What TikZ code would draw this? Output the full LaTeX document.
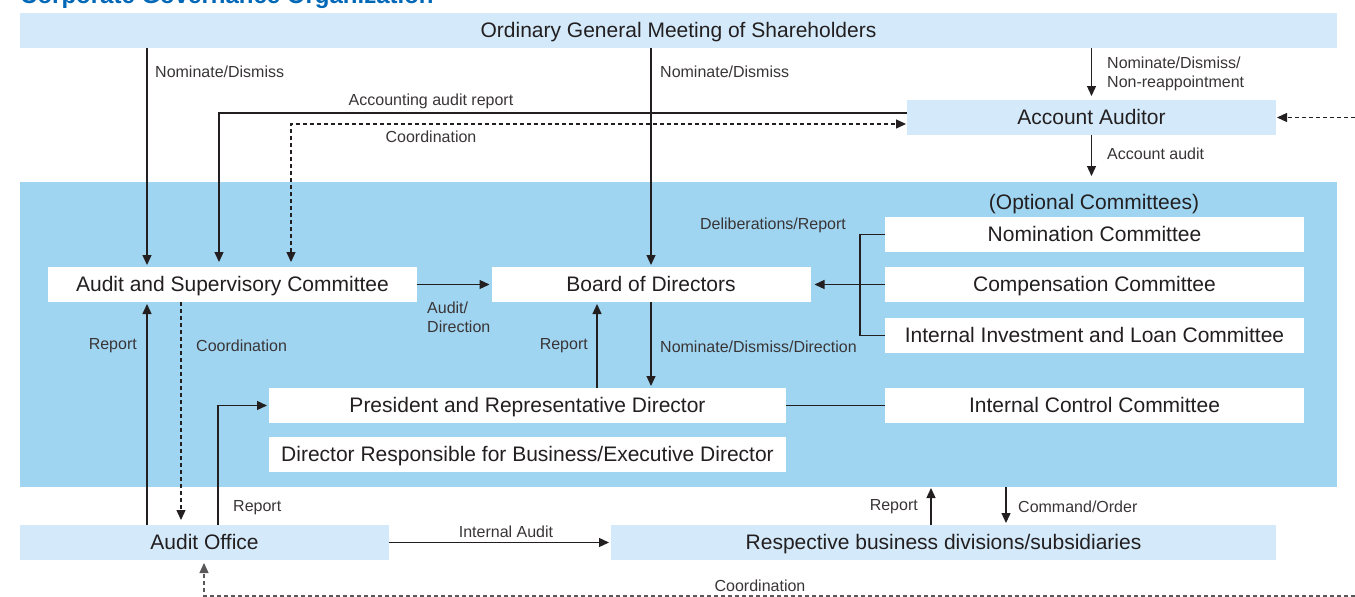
\documentclass[tikz,border=0pt]{standalone}
\usepackage{fontspec}
\setmainfont{Liberation Sans}
\usetikzlibrary{arrows.meta}

\definecolor{paleblue}{RGB}{212,234,250}
\definecolor{boardblue}{RGB}{160,213,242}
\definecolor{titleblue}{RGB}{0,104,183}
\definecolor{ink}{RGB}{35,31,32}

\tikzset{
  x=1pt, y=-1pt,
  unit/.style={inner sep=0pt, outer sep=0pt, font=\fontsize{21}{25}\selectfont, text=ink,
               text height=16pt, text depth=2pt},
  palebox/.style={unit, fill=paleblue},
  whitebox/.style={unit, fill=white},
  wide/.style={minimum width=369pt, minimum height=35pt},
  committee/.style={minimum width=419pt, minimum height=35pt},
  lbl/.style={inner sep=0pt, font=\fontsize{16}{19}\selectfont, text=ink!90, align=left},
  link/.style={draw=ink, line width=1.3pt},
  arr/.style={link, -{Triangle[length=10pt,width=9pt]}, shorten >=2pt},
  darr/.style={arr, dash pattern=on 4pt off 3pt},
}

\begin{document}
\begin{tikzpicture}
\useasboundingbox (0,0) rectangle (1355,597);

% heading, mostly above the top edge
\node[anchor=base west, inner sep=0pt, text=titleblue,
      font=\fontsize{24}{28}\selectfont\bfseries] (title) at (20,3)
  {Corporate Governance Organization};

% management area
\node[unit, fill=boardblue, minimum width=1317pt, minimum height=305pt] (mgmt) at (678.5,334.5) {};

% boxes
\node[palebox, minimum width=1317pt, minimum height=35pt] (ogm) at (678.5,30.5)
  {Ordinary General Meeting of Shareholders};
\node[palebox, wide] (aa) at (1091.5,117.5) {Account Auditor};
\node[whitebox, wide] (asc) at (232.5,284.5) {Audit and Supervisory Committee};
\node[whitebox, minimum width=319pt, minimum height=35pt] (bod) at (651,284.5) {Board of Directors};
\node[unit, anchor=center] (opt) at (1094,202) {(Optional Committees)};
\node[whitebox, committee] (nom) at (1094.5,234.5) {Nomination Committee};
\node[whitebox, committee] (comp) at (1094.5,284.5) {Compensation Committee};
\node[whitebox, committee] (iil) at (1094.5,335.5) {Internal Investment and Loan Committee};
\node[whitebox, minimum width=517pt, minimum height=35pt] (pres) at (527.5,405.5)
  {President and Representative Director};
\node[whitebox, committee] (icc) at (1094.5,405.5) {Internal Control Committee};
\node[whitebox, minimum width=517pt, minimum height=35pt] (dir) at (527.5,454.5)
  {Director Responsible for Business/Executive Director};
\node[palebox, wide] (ao) at (204.5,542.5) {Audit Office};
\node[palebox, minimum width=665pt, minimum height=35pt] (resp) at (943.5,542.5)
  {Respective business divisions/subsidiaries};

% connector columns and rows
\coordinate (colA) at (147,0);
\coordinate (colB) at (219,0);
\coordinate (colC) at (291,0);
\coordinate (colD) at (651,0);
\coordinate (colF) at (181,0);
\coordinate (colG) at (218,0);
\coordinate (colH) at (597,0);
\coordinate (colI) at (931,0);
\coordinate (colJ) at (1006,0);
\coordinate (colK) at (204,0);
\coordinate (brk) at (860,0);
\coordinate (rowAcc) at (0,113);
\coordinate (rowCo) at (0,124);
\coordinate (edgeR) at (1355,117.5);
\coordinate (edgeB) at (1355,596);

% shareholders meeting
\draw[arr] (ogm.south -| colA) -- (asc.north -| colA);
\draw[arr] (ogm.south -| colD) -- (bod.north -| colD);
\draw[arr, shorten >=4pt] (ogm.south -| aa.north) -- (aa.north);
\draw[arr, shorten >=6pt] (aa.south) -- (aa.south |- mgmt.north);
\draw[darr, shorten >=1pt] (edgeR) -- (aa.east);

% account auditor with the audit and supervisory committee
\draw[arr, shorten >=5pt] (aa.west |- rowAcc) -| (asc.north -| colB);
\draw[darr, {Triangle[length=10pt,width=9pt]}-{Triangle[length=10pt,width=9pt]},
      shorten <=5pt, shorten >=1pt] (asc.north -| colC) |- (aa.west |- rowCo);

% board level
\draw[arr] (asc.east) -- (bod.west);
\draw[link] (nom.west) -| (iil.west -| brk) -- (iil.west);
\draw[arr, shorten >=4pt] (comp.west) -- (bod.east);
\draw[arr] (bod.south -| colD) -- (pres.north -| colD);
\draw[arr] (pres.north -| colH) -- (bod.south -| colH);
\draw[link] (pres.east) -- (icc.west);

% audit office
\draw[arr] (ao.north -| colA) -- (asc.south -| colA);
\draw[darr, shorten >=5pt] (asc.south -| colF) -- (ao.north -| colF);
\draw[arr] (ao.north -| colG) |- (pres.west);
\draw[arr] (ao.east) -- (resp.west);
\draw[darr, draw=ink!75, shorten >=3pt] (edgeB) -| (ao.south -| colK);

% business divisions
\draw[arr, shorten >=1pt] (resp.north -| colI) -- (mgmt.south -| colI);
\draw[arr] (mgmt.south -| colJ) -- (resp.north -| colJ);

% connector labels
\node[lbl, anchor=west] (l1) at (155,72) {Nominate/Dismiss};
\node[lbl, anchor=west] (l2) at (660,72) {Nominate/Dismiss};
\node[lbl, anchor=west] (l3) at (1107,73.5) {Nominate/Dismiss/\\Non-reappointment};
\node[lbl] (l4) at (431,101) {Accounting audit report};
\node[lbl] (l5) at (431,137) {Coordination};
\node[lbl, anchor=west] (l6) at (1107,154) {Account audit};
\node[lbl] (l7) at (773,225) {Deliberations/Report};
\node[lbl, anchor=west] (l8) at (427,317.5) {Audit/\\Direction};
\node[lbl, anchor=east] (l9) at (588,346) {Report};
\node[lbl, anchor=west] (l10) at (660,347) {Nominate/Dismiss/Direction};
\node[lbl, anchor=east] (l11) at (137,346) {Report};
\node[lbl, anchor=west] (l12) at (196,346) {Coordination};
\node[lbl, anchor=west] (l13) at (233,508) {Report};
\node[lbl] (l14) at (506,532) {Internal Audit};
\node[lbl, anchor=east] (l15) at (918,507) {Report};
\node[lbl, anchor=west] (l16) at (1018,507) {Command/Order};
\node[lbl] (l17) at (760,586) {Coordination};
\end{tikzpicture}
\end{document}
